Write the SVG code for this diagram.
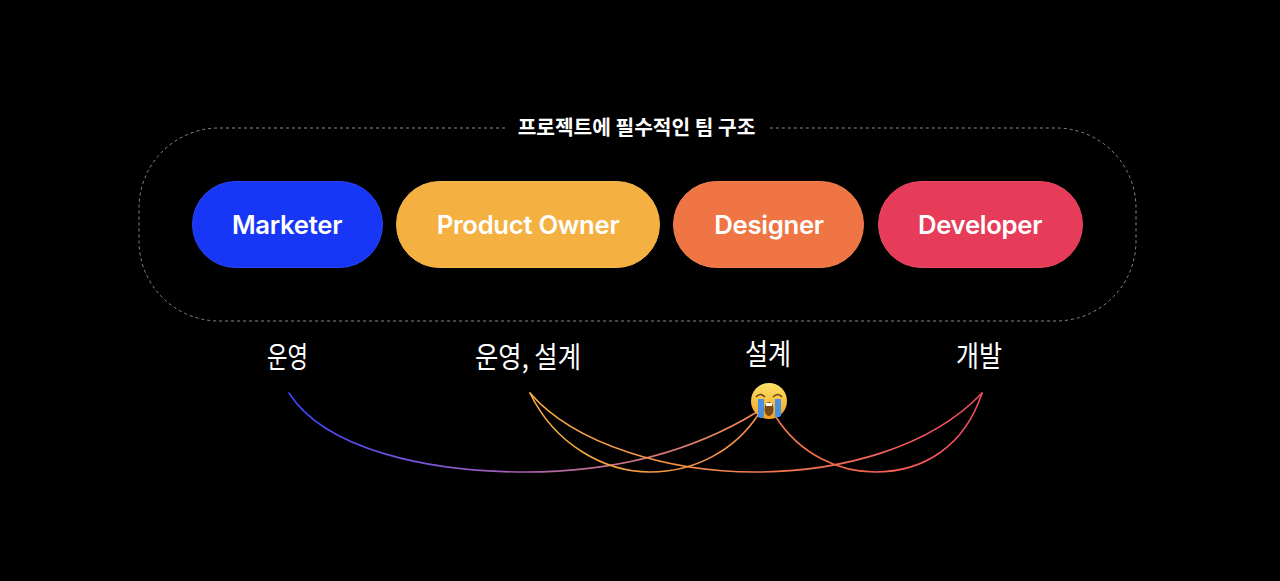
<svg xmlns="http://www.w3.org/2000/svg" width="1280" height="581" viewBox="0 0 1280 581">
<style>
.pill{stroke-width:1}
.name{font-family:Inter,"Liberation Sans",sans-serif;font-weight:600;font-size:25.700px;fill:#fff;text-anchor:middle;letter-spacing:-.3px}
.hand{font-family:"Noto Sans CJK KR",sans-serif;font-weight:400;font-size:29px;fill:#fff}
.title{font-family:"Noto Sans CJK KR",sans-serif;font-weight:700;font-size:20.300px;fill:#fff;text-anchor:middle}
.link{fill:none;stroke-width:1.600;stroke-linecap:round}
</style>
<defs>
<linearGradient id="gBlue" gradientUnits="userSpaceOnUse" x1="289" y1="0" x2="757" y2="0"><stop offset="0" stop-color="#3a45ff"/><stop offset=".5" stop-color="#a860b0"/><stop offset="1" stop-color="#f58a50"/></linearGradient>
<linearGradient id="gOr" gradientUnits="userSpaceOnUse" x1="530" y1="0" x2="982" y2="0"><stop offset="0" stop-color="#f9b040"/><stop offset="1" stop-color="#f04a60"/></linearGradient>
<linearGradient id="gOr2" gradientUnits="userSpaceOnUse" x1="530" y1="0" x2="758" y2="0"><stop offset="0" stop-color="#f9b040"/><stop offset="1" stop-color="#f58a48"/></linearGradient>
<linearGradient id="gRed" gradientUnits="userSpaceOnUse" x1="776" y1="0" x2="982" y2="0"><stop offset="0" stop-color="#f47848"/><stop offset="1" stop-color="#f04a60"/></linearGradient>
<linearGradient id="face" x1="0" y1="0" x2="0" y2="1"><stop offset="0" stop-color="#fde26a"/><stop offset="1" stop-color="#f0a020"/></linearGradient>
</defs>
<rect width="1280" height="581" fill="#000"/>
<g id="frame">
<path d="M505 128H219A80 80 0 0 0 139 208V241A80 80 0 0 0 219 321H1056A80 80 0 0 0 1136 241V208A80 80 0 0 0 1056 128H770" fill="none" stroke="#8a8a8a" stroke-width="1" stroke-dasharray="3 3"/>
<text class="title" x="636.500" y="135">프로젝트에 필수적인 팀 구조</text>
</g>
<g id="connectors">
<path class="link" stroke="url(#gBlue)" d="M289 393C325 450 430 472 525 472C620 472 695 450 757 412"/>
<path class="link" stroke="url(#gOr)" d="M530 393C575 445 670 472 755 472C840 472 930 448 982 393"/>
<path class="link" stroke="url(#gOr2)" d="M530 393C555 445 605 472 650 472C695 472 735 450 758 415"/>
<path class="link" stroke="url(#gRed)" d="M776 417C800 455 840 472 875 472C925 472 965 445 982 393"/>
</g>
<g id="marketer"><rect class="pill" x="192.500" y="181.500" width="190" height="86" rx="43" fill="#1736f5" stroke="#2a45f8"/><text class="name" x="287" y="234">Marketer</text></g>
<g id="product-owner"><rect class="pill" x="396.500" y="181.500" width="263" height="86" rx="43" fill="#f4b040" stroke="#f6b84c"/><text class="name" x="528" y="234">Product Owner</text></g>
<g id="designer"><rect class="pill" x="673.500" y="181.500" width="190" height="86" rx="43" fill="#ef7544" stroke="#f2804f"/><text class="name" x="769" y="234">Designer</text></g>
<g id="developer"><rect class="pill" x="878.500" y="181.500" width="204" height="86" rx="43" fill="#e63c5a" stroke="#ea4a66"/><text class="name" x="980" y="234">Developer</text></g>
<g id="labels">
<text class="hand" x="267" y="367.500" textLength="41" lengthAdjust="spacingAndGlyphs">운영</text>
<text class="hand" x="475" y="367.500" textLength="106" lengthAdjust="spacingAndGlyphs">운영, 설계</text>
<text class="hand" x="745" y="364.500" textLength="46" lengthAdjust="spacingAndGlyphs">설계</text>
<text class="hand" x="956" y="367" textLength="46" lengthAdjust="spacingAndGlyphs">개발</text>
</g>
<g id="emoji">
<circle cx="769" cy="401" r="18" fill="url(#face)"/>
<path d="M756 397q4-5 9 0M773 397q5-5 9 0" fill="none" stroke="#6b4310" stroke-width="1.500"/>
<path d="M758 399h6v18q-3 2-6 0zM775 399h6v17q-3 2-6 1z" fill="#4a90e2"/>
<ellipse cx="769" cy="409" rx="4.500" ry="7" fill="#7a4a12"/>
<rect x="766" y="403" width="6" height="3" fill="#fff"/>
</g>
</svg>
